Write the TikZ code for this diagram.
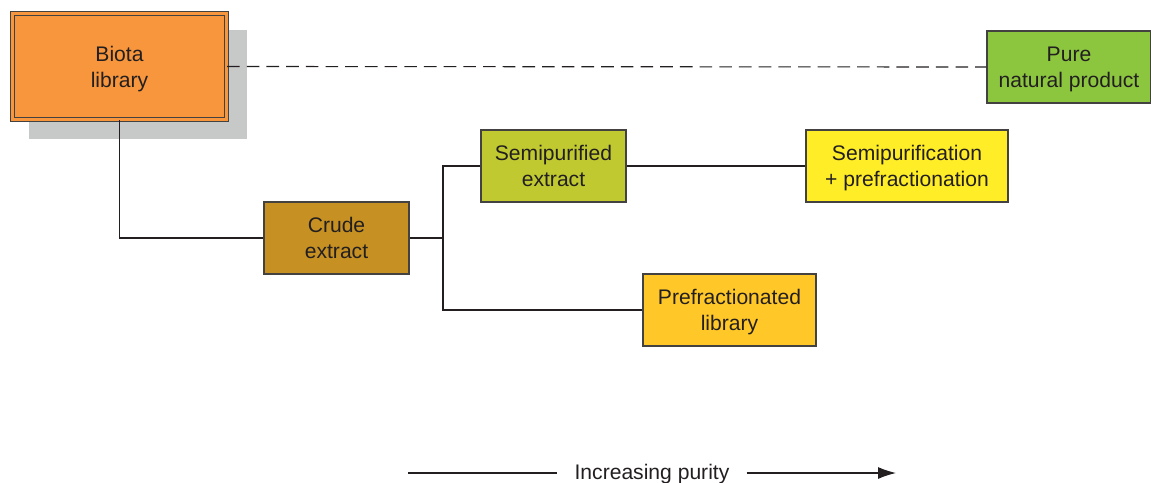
\documentclass[tikz,border=0pt]{standalone}
\usepackage{fontspec}
\setmainfont{Liberation Sans}
\usetikzlibrary{positioning,calc,arrows.meta}
\definecolor{BiotaOrange}{RGB}{247,150,60}
\definecolor{PureGreen}{RGB}{140,198,63}
\definecolor{SemiOlive}{RGB}{192,202,48}
\definecolor{SemiYellow}{RGB}{255,237,40}
\definecolor{CrudeBrown}{RGB}{198,145,34}
\definecolor{PrefracGold}{RGB}{255,200,40}
\definecolor{ShadowGray}{RGB}{199,200,200}
\definecolor{InkGray}{RGB}{35,31,32}

\begin{document}
\begin{tikzpicture}[
    x=0.025cm,
    y=-0.025cm,
    font=\fontsize{15}{18.5}\selectfont,
    text=InkGray,
    >={Latex[length=0.45cm,width=0.3cm]},
    box/.style={
        draw=InkGray!85,
        line width=0.9pt,
        align=center,
        inner sep=0pt,
        minimum height=1.8cm,
        text depth=0pt
    },
    link/.style={
        draw=InkGray,
        line width=0.8pt
    }
]
\useasboundingbox (0,0) rectangle (1151,482);

% =========================
% Source library
% =========================
\fill[ShadowGray] (29,30) rectangle (247,139);
\node[box, fill=BiotaOrange, minimum width=5.35cm, minimum height=2.65cm,
      double=BiotaOrange, double distance=2.2pt, line width=0.8pt]
      (biota) at (119.5,66.5) {Biota\\library};

% =========================
% Extracts and fractions
% =========================
\node[box, fill=CrudeBrown,  minimum width=3.625cm] (crude)  at (336.5,238) {Crude\\extract};
\node[box, fill=SemiOlive,   minimum width=3.625cm] (semi)   at (553.5,166) {Semipurified\\extract};
\node[box, fill=PrefracGold, minimum width=4.325cm] (prefrac) at (729.5,310) {Prefractionated\\library};
\node[box, fill=SemiYellow,  minimum width=5.05cm]  (semipre) at (907,166) {Semipurification\\+ prefractionation};
\node[box, fill=PureGreen,   minimum width=4.1cm]   (pure)   at (1069,67) {Pure\\natural product};

\coordinate (split) at (443,238);

\draw[link] (biota.south) |- (crude.west);
\draw[link] (crude.east) -- (split);
\draw[link] (split) |- (semi.west);
\draw[link] (split) |- (prefrac.west);
\draw[link] (semi.east) -- (semipre.west);
\draw[link, dashed, dash pattern=on 9pt off 5pt] (biota.east) -- (pure.west);

% =========================
% Purity axis
% =========================
\node[inner sep=0pt, anchor=base] (purity) at (652,479) {Increasing purity};
\coordinate (axisstart) at (408,473);
\coordinate (axisend) at (896,473);
\draw[link] (axisstart) -- ([xshift=-12pt]purity.west |- axisstart);
\draw[link, ->] ([xshift=12pt]purity.east |- axisend) -- (axisend);

\end{tikzpicture}
\end{document}
